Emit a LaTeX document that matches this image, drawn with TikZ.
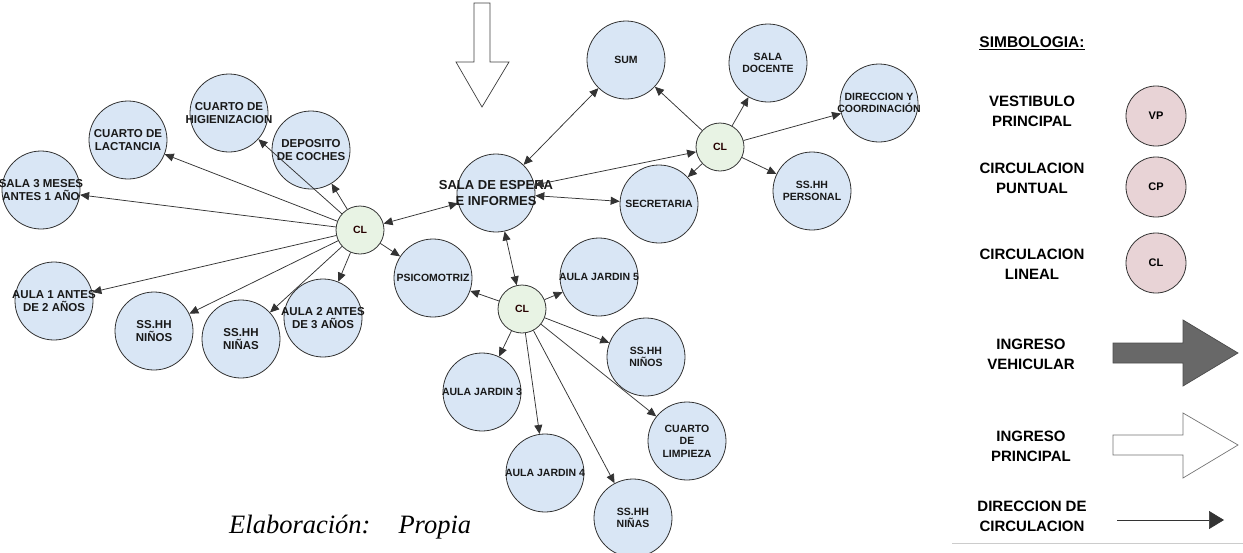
\documentclass[tikz,border=0pt]{standalone}
\usepackage{fontspec}
\setmainfont{Liberation Serif}
\setsansfont{Liberation Sans}
\usetikzlibrary{positioning,arrows.meta}
\definecolor{rmFill}{HTML}{D9E6F5}
\definecolor{clFill}{HTML}{E8F3E4}
\definecolor{lgFill}{HTML}{E8D3D6}
\definecolor{rmLine}{HTML}{333333}
\definecolor{arDark}{HTML}{686868}
\begin{document}
\begin{tikzpicture}[
  x=1pt, y=-1pt,
  font=\sffamily\bfseries,
  txt/.style={align=center, inner sep=0pt, text=black!90,
    font=\sffamily\bfseries\fontsize{10.5}{12.5}\selectfont},
  room/.style={
    circle, draw=rmLine, line width=0.8pt, fill=rmFill,
    minimum size=78pt, inner sep=0pt,
    label={[txt]center:{#1}}
  },
  bigroom/.style={
    circle, draw=rmLine, line width=0.8pt, fill=rmFill,
    minimum size=78pt, inner sep=0pt,
    label={[txt, font=\sffamily\bfseries\fontsize{13}{16}\selectfont]center:{#1}}
  },
  hub/.style={circle, draw=rmLine, line width=0.8pt, fill=clFill,
    minimum size=48pt, inner sep=0pt,
    font=\sffamily\bfseries\fontsize{10.5}{11}\selectfont, text=black!85!red},
  lgcirc/.style={circle, draw=rmLine, line width=0.8pt, fill=lgFill,
    minimum size=60pt, inner sep=0pt,
    font=\sffamily\bfseries\fontsize{11}{12}\selectfont},
  lgtxt/.style={align=center, inner sep=0pt,
    font=\sffamily\bfseries\fontsize{15}{20}\selectfont},
  flow/.style={-{Triangle[length=9pt,width=8pt]}, draw=rmLine, line width=0.75pt},
  dflow/.style={{Triangle[length=9pt,width=8pt]}-{Triangle[length=9pt,width=8pt]},
    draw=rmLine, line width=0.75pt},
  hollow/.style={draw=black!75, line width=0.7pt, fill=white}
]
\useasboundingbox (0,0) rectangle (1243,552);

% ---- entrance -------------------------------------------------------------
\draw[hollow] (474,3) -- (490,3) -- (490,62) -- (509,62) -- (482,107)
  -- (456,62) -- (474,62) -- cycle;

% ---- left cluster ---------------------------------------------------------
\begin{scope}[txt/.append style={font=\sffamily\bfseries\fontsize{11.5}{13.5}\selectfont}]
\node[room={CUARTO DE\\LACTANCIA}] (lact) at (128,140) {};
\node[room={CUARTO DE\\HIGIENIZACION}] (higi) at (229,113) {};
\node[room={DEPOSITO\\DE COCHES}] (coches) at (311,150) {};
\node[room={SALA 3 MESES\\ANTES 1 AÑO}] (sala3m) at (41,190) {};
\node[room={AULA 1 ANTES\\DE 2 AÑOS}] (aula1) at (54,301) {};
\node[room={SS.HH\\NIÑOS}] (nin1) at (154,331) {};
\node[room={SS.HH\\NIÑAS}] (nia1) at (241,339) {};
\node[room={AULA 2 ANTES\\DE 3 AÑOS}] (aula2) at (323,318) {};
\end{scope}
\node[hub] (clA) at (360,230) {CL};

% ---- center and right -----------------------------------------------------
\node[bigroom={SALA DE ESPERA\\E INFORMES}] (sala) at (496,193) {};
\node[room={SUM}] (sum) at (626,60) {};
\node[room={SECRETARIA}] (secre) at (659,204) {};
\node[room={SALA\\DOCENTE}] (docente) at (768,63) {};
\node[room={DIRECCION Y\\COORDINACIÓN}] (direc) at (879,103) {};
\node[room={SS.HH\\PERSONAL}] (personal) at (812,191) {};
\node[hub] (clB) at (720,147) {CL};

% ---- lower cluster --------------------------------------------------------
\node[room={PSICOMOTRIZ}] (psico) at (433,278) {};
\node[room={AULA JARDIN 5}] (jar5) at (599,277) {};
\node[room={SS.HH\\NIÑOS}] (nin2) at (646,357) {};
\node[room={AULA JARDIN 3}] (jar3) at (482,392) {};
\node[room={CUARTO\\DE\\LIMPIEZA}] (limp) at (687,441) {};
\node[room={AULA JARDIN 4}] (jar4) at (545,473) {};
\node[room={SS.HH\\NIÑAS}] (nia2) at (633,518) {};
\node[hub] (clC) at (522,309) {CL};

% ---- connectors -----------------------------------------------------------
\foreach \t in {lact,higi,coches,sala3m,aula1,nin1,nia1,aula2,psico}
  \draw[flow] (clA) -- (\t);
\draw[dflow] (clA) -- (sala);
\draw[dflow] (sala) -- (sum);
\draw[dflow] (sala) -- (clB);
\draw[dflow] (sala) -- (secre);
\draw[dflow] (sala) -- (clC);
\foreach \t in {sum,docente,direc,personal,secre}
  \draw[flow] (clB) -- (\t);
\foreach \t in {psico,jar5,nin2,jar3,limp,jar4,nia2}
  \draw[flow] (clC) -- (\t);

% ---- source ---------------------------------------------------------------
\node[anchor=base west, inner sep=0pt,
  font=\rmfamily\mdseries\itshape\fontsize{26.5}{26.5}\selectfont] (fuente) at (229,533)
  {Elaboración:\hspace{28pt}Propia};

% ---- legend ---------------------------------------------------------------
\node[lgtxt, font=\sffamily\bfseries\fontsize{15.5}{17}\selectfont] (simb) at (1032,43) {\underline{SIMBOLOGIA:}};
\node[lgtxt] (tVP) at (1032,111) {VESTIBULO\\PRINCIPAL};
\node[lgcirc] (cVP) at (1156,116) {VP};
\node[lgtxt] (tCP) at (1032,178) {CIRCULACION\\PUNTUAL};
\node[lgcirc] (cCP) at (1156,187) {CP};
\node[lgtxt] (tCL) at (1032,264) {CIRCULACION\\LINEAL};
\node[lgcirc] (cCL) at (1156,263) {CL};
\node[lgtxt] (tIV) at (1031,354) {INGRESO\\VEHICULAR};
\draw[draw=black!70, line width=0.7pt, fill=arDark] (1113,343) -- (1183,343) -- (1183,320)
  -- (1238,353) -- (1183,386) -- (1183,363) -- (1113,363) -- cycle;
\node[lgtxt] (tIP) at (1031,446) {INGRESO\\PRINCIPAL};
\draw[hollow, draw=black!55] (1113,435) -- (1183,435) -- (1183,413)
  -- (1238,445) -- (1183,478) -- (1183,455) -- (1113,455) -- cycle;
\node[lgtxt] (tDC) at (1032,516) {DIRECCION DE\\CIRCULACION};
\coordinate (dirA) at (1117,520);
\coordinate (dirB) at (1224,520);
\draw[-{Triangle[length=15pt,width=18pt]}, line width=0.7pt, draw=black!80] (dirA) -- (dirB);
\draw[black!20, line width=1pt] (952,543) -- (1243,543);

\end{tikzpicture}
\end{document}
